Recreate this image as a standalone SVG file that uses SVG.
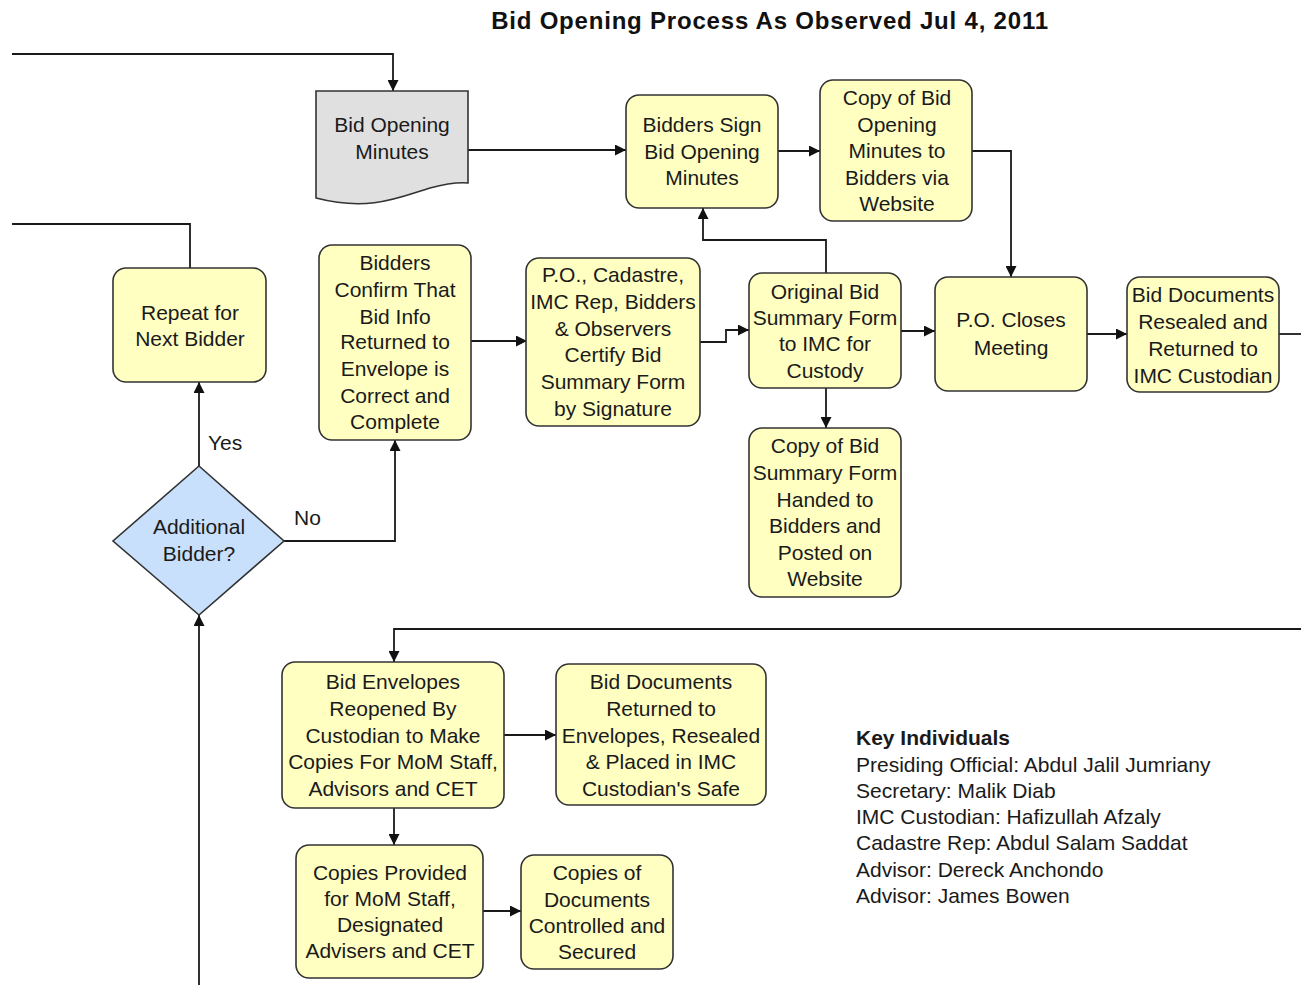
<svg xmlns="http://www.w3.org/2000/svg" width="1301" height="985" viewBox="0 0 1301 985">
  <style>
    .box { fill: #ffffc2; stroke: #333333; stroke-width: 1.6; }
    .doc { fill: #e0e0e0; stroke: #333333; stroke-width: 1.6; }
    .dec { fill: #c8e0fc; stroke: #333333; stroke-width: 1.6; }
    .t { font-family: "Liberation Sans", Arial, sans-serif; font-size: 21px; fill: #1a1a1a; text-anchor: middle; }
    .k { font-family: "Liberation Sans", Arial, sans-serif; font-size: 21px; fill: #1a1a1a; }
    .title { font-family: "Liberation Sans", Arial, sans-serif; font-size: 24px; font-weight: bold; letter-spacing: 0.8px; fill: #111111; text-anchor: middle; }
    .c { fill: none; stroke: #1a1a1a; stroke-width: 1.8; }
    .ca { fill: none; stroke: #1a1a1a; stroke-width: 1.8; marker-end: url(#arrow); }
  </style>
  <defs>
    <marker id="arrow" markerUnits="userSpaceOnUse" viewBox="0 0 10 10" refX="10" refY="5" markerWidth="11" markerHeight="11" orient="auto">
      <path d="M0,0 L10,5 L0,10 z" fill="#111111"/>
    </marker>
  </defs>

  <rect width="1301" height="985" fill="#ffffff"/>

  <text class="title" x="770" y="29">Bid Opening Process As Observed Jul 4, 2011</text>

  <!-- connectors -->
  <g id="connectors">
    <path class="ca" d="M12,54 H393 V91"/>
    <path class="ca" d="M468,150 H626"/>
    <path class="ca" d="M778,151 H820"/>
    <path class="ca" d="M972,151 H1011 V277"/>
    <path class="c" d="M12,224 H190 V268"/>
    <path class="ca" d="M199,466 V382"/>
    <path class="ca" d="M284,541 H395 V440"/>
    <path class="ca" d="M199,985 V615"/>
    <path class="ca" d="M471,341 H527"/>
    <path class="ca" d="M700,342 H726 V330 H749"/>
    <path class="ca" d="M826,273 V240 H703 V208"/>
    <path class="ca" d="M901,331 H935"/>
    <path class="ca" d="M826,388 V428"/>
    <path class="ca" d="M1087,334 H1127"/>
    <path class="c" d="M1279,334 H1301"/>
    <path class="ca" d="M1301,629 H394 V662"/>
    <path class="ca" d="M504,735 H556"/>
    <path class="ca" d="M394,808 V845"/>
    <path class="ca" d="M483,911 H521"/>
    <text class="k" x="208" y="450">Yes</text>
    <text class="k" x="294" y="525">No</text>
  </g>

  <g id="bid-opening-minutes">
    <path class="doc" d="M316,91 H468 V183 C455,182 445,184 430,188 C400,197 370,212 316,198 Z"/>
    <text class="t" x="392" y="132">Bid Opening</text>
    <text class="t" x="392" y="159">Minutes</text>
  </g>

  <g id="bidders-sign">
    <rect class="box" x="626" y="95" width="152" height="113" rx="13"/>
    <text class="t" x="702" y="132">Bidders Sign</text>
    <text class="t" x="702" y="159">Bid Opening</text>
    <text class="t" x="702" y="185">Minutes</text>
  </g>

  <g id="copy-minutes-website">
    <rect class="box" x="820" y="80" width="152" height="141" rx="13"/>
    <text class="t" x="897" y="105">Copy of Bid</text>
    <text class="t" x="897" y="132">Opening</text>
    <text class="t" x="897" y="158">Minutes to</text>
    <text class="t" x="897" y="185">Bidders via</text>
    <text class="t" x="897" y="211">Website</text>
  </g>

  <g id="repeat-next-bidder">
    <rect class="box" x="113" y="268" width="153" height="114" rx="13"/>
    <text class="t" x="190" y="320">Repeat for</text>
    <text class="t" x="190" y="346">Next Bidder</text>
  </g>

  <g id="additional-bidder">
    <path class="dec" d="M199,466 L284,541 L199,615 L113,541 Z"/>
    <text class="t" x="199" y="534">Additional</text>
    <text class="t" x="199" y="561">Bidder?</text>
  </g>

  <g id="bidders-confirm">
    <rect class="box" x="319" y="245" width="152" height="195" rx="13"/>
    <text class="t" x="395" y="270">Bidders</text>
    <text class="t" x="395" y="297">Confirm That</text>
    <text class="t" x="395" y="324">Bid Info</text>
    <text class="t" x="395" y="349">Returned to</text>
    <text class="t" x="395" y="376">Envelope is</text>
    <text class="t" x="395" y="403">Correct and</text>
    <text class="t" x="395" y="429">Complete</text>
  </g>

  <g id="certify-summary">
    <rect class="box" x="526" y="258" width="174" height="168" rx="13"/>
    <text class="t" x="613" y="282">P.O., Cadastre,</text>
    <text class="t" x="613" y="309">IMC Rep, Bidders</text>
    <text class="t" x="613" y="336">&amp; Observers</text>
    <text class="t" x="613" y="362">Certify Bid</text>
    <text class="t" x="613" y="389">Summary Form</text>
    <text class="t" x="613" y="416">by Signature</text>
  </g>

  <g id="original-summary">
    <rect class="box" x="749" y="273" width="152" height="115" rx="13"/>
    <text class="t" x="825" y="299">Original Bid</text>
    <text class="t" x="825" y="325">Summary Form</text>
    <text class="t" x="825" y="351">to IMC for</text>
    <text class="t" x="825" y="378">Custody</text>
  </g>

  <g id="copy-summary">
    <rect class="box" x="749" y="428" width="152" height="169" rx="13"/>
    <text class="t" x="825" y="453">Copy of Bid</text>
    <text class="t" x="825" y="480">Summary Form</text>
    <text class="t" x="825" y="507">Handed to</text>
    <text class="t" x="825" y="533">Bidders and</text>
    <text class="t" x="825" y="560">Posted on</text>
    <text class="t" x="825" y="586">Website</text>
  </g>

  <g id="po-closes">
    <rect class="box" x="935" y="277" width="152" height="114" rx="13"/>
    <text class="t" x="1011" y="327">P.O. Closes</text>
    <text class="t" x="1011" y="355">Meeting</text>
  </g>

  <g id="resealed-returned">
    <rect class="box" x="1127" y="277" width="152" height="115" rx="13"/>
    <text class="t" x="1203" y="302">Bid Documents</text>
    <text class="t" x="1203" y="329">Resealed and</text>
    <text class="t" x="1203" y="356">Returned to</text>
    <text class="t" x="1203" y="383">IMC Custodian</text>
  </g>

  <g id="envelopes-reopened">
    <rect class="box" x="282" y="662" width="222" height="146" rx="13"/>
    <text class="t" x="393" y="689">Bid Envelopes</text>
    <text class="t" x="393" y="716">Reopened By</text>
    <text class="t" x="393" y="743">Custodian to Make</text>
    <text class="t" x="393" y="769">Copies For MoM Staff,</text>
    <text class="t" x="393" y="796">Advisors and CET</text>
  </g>

  <g id="documents-returned">
    <rect class="box" x="556" y="664" width="210" height="141" rx="13"/>
    <text class="t" x="661" y="689">Bid Documents</text>
    <text class="t" x="661" y="716">Returned to</text>
    <text class="t" x="661" y="743">Envelopes, Resealed</text>
    <text class="t" x="661" y="769">&amp; Placed in IMC</text>
    <text class="t" x="661" y="796">Custodian's Safe</text>
  </g>

  <g id="copies-provided">
    <rect class="box" x="296" y="845" width="187" height="133" rx="13"/>
    <text class="t" x="390" y="880">Copies Provided</text>
    <text class="t" x="390" y="906">for MoM Staff,</text>
    <text class="t" x="390" y="932">Designated</text>
    <text class="t" x="390" y="958">Advisers and CET</text>
  </g>

  <g id="copies-controlled">
    <rect class="box" x="521" y="855" width="152" height="114" rx="13"/>
    <text class="t" x="597" y="880">Copies of</text>
    <text class="t" x="597" y="907">Documents</text>
    <text class="t" x="597" y="933">Controlled and</text>
    <text class="t" x="597" y="959">Secured</text>
  </g>

  <g id="key-individuals">
    <text class="k" x="856" y="745" font-weight="bold">Key Individuals</text>
    <text class="k" x="856" y="772">Presiding Official: Abdul Jalil Jumriany</text>
    <text class="k" x="856" y="798">Secretary: Malik Diab</text>
    <text class="k" x="856" y="824">IMC Custodian: Hafizullah Afzaly</text>
    <text class="k" x="856" y="850">Cadastre Rep: Abdul Salam Saddat</text>
    <text class="k" x="856" y="877">Advisor: Dereck Anchondo</text>
    <text class="k" x="856" y="903">Advisor: James Bowen</text>
  </g>
</svg>
